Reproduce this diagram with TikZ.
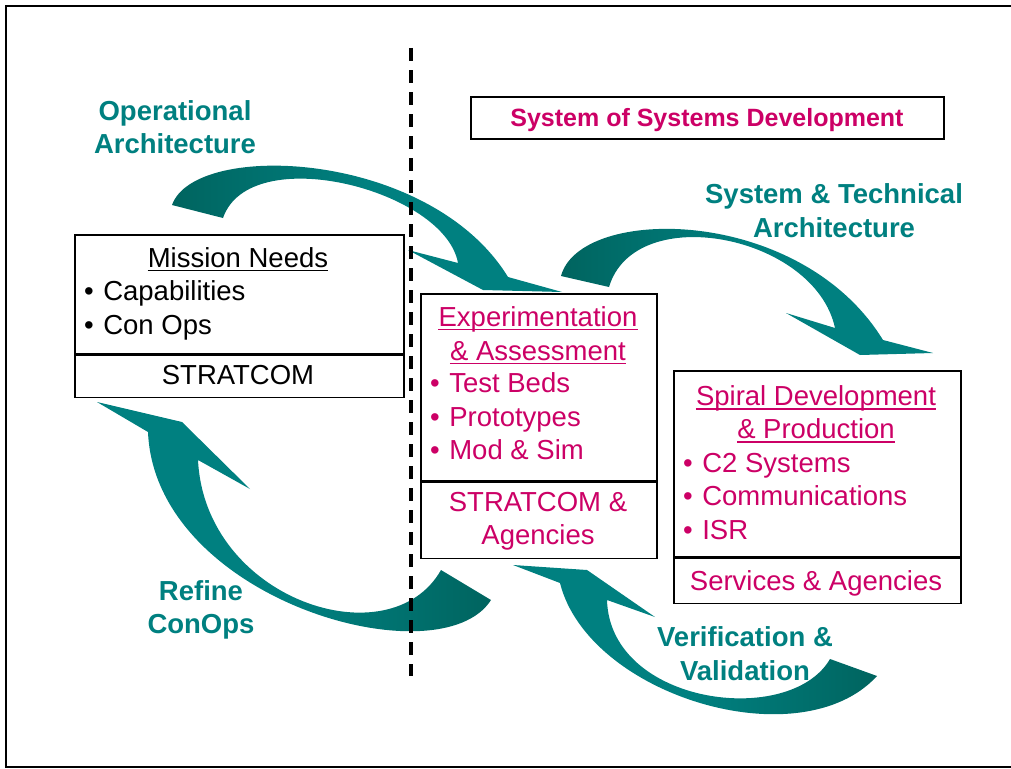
\documentclass[tikz,border=0pt]{standalone}
\usepackage{fontspec}
\setmainfont{Liberation Sans}
\usetikzlibrary{positioning}
\definecolor{ArrTeal}{HTML}{008080}
\definecolor{ArrDark}{HTML}{00645F}
\definecolor{LblTeal}{HTML}{008080}
\definecolor{TxtMag}{HTML}{CC0066}
\newcommand{\bul}{\textbullet\hspace{9.5pt}}

\begin{document}
\begin{tikzpicture}[x=1pt,y=-1pt,
  boxframe/.style={draw,line width=1.7pt,fill=white,inner sep=0pt,anchor=north west},
  body/.style={font=\fontsize{27.5}{33}\selectfont,inner sep=0pt,anchor=base},
  mag/.style={body,text=TxtMag},
  lbl/.style={body,font=\fontsize{27.5}{33}\selectfont\bfseries,text=LblTeal},
  fwdarrow/.style={left color=ArrDark,right color=ArrTeal,middle color=ArrTeal},
  backarrow/.style={left color=ArrTeal,right color=ArrDark,middle color=ArrTeal},
  underl/.style={line width=1.3pt}]
  \useasboundingbox (0,0) rectangle (1011,768);
  \draw[line width=2.4pt] (1012,6) -- (6,6) -- (6,767) -- (1012,767);

  \shade[fwdarrow] (172,205) .. controls (195,140) and (430,150) .. (508,277)
    -- (562,292) -- (483,290) -- (408,250) -- (458,263)
    .. controls (445,190) and (250,140) .. (223,218) -- cycle;
  \shade[fwdarrow] (561,276) .. controls (580,205) and (800,205) .. (883,340)
    -- (933,353) -- (860,355) -- (786,313) -- (835,328)
    .. controls (815,235) and (635,200) .. (609,287) -- cycle;
  \shade[backarrow] (491,600) .. controls (440,680) and (155,600) .. (148,432)
    -- (97,402) -- (182,422) -- (250,489) -- (198,460)
    .. controls (205,600) and (390,660) .. (441,570) -- cycle;
  \shade[backarrow] (877,676) .. controls (800,760) and (588,695) .. (560,583)
    -- (513,565) -- (587,570) -- (655,617) -- (607,600)
    .. controls (610,705) and (790,728) .. (830,659) -- cycle;

  \node[boxframe, minimum width=473, minimum height=42] (sos) at (470,96) {};
  \node[boxframe, minimum width=329, minimum height=119] (needs) at (74,234) {};
  \node[boxframe, minimum width=329, minimum height=42] (needsorg) at (needs.south west) {};
  \node[boxframe, minimum width=236, minimum height=187] (exper) at (420,293) {};
  \node[boxframe, minimum width=236, minimum height=76] (experorg) at (exper.south west) {};
  \node[boxframe, minimum width=287, minimum height=186] (spiral) at (673,370) {};
  \node[boxframe, minimum width=287, minimum height=45] (spiralorg) at (spiral.south west) {};

  \coordinate (divtop) at (411,48);
  \coordinate (divbot) at (411,676);
  \draw[line width=3.6pt, dash pattern=on 13pt off 9pt] (divtop) -- (divbot);

  \node[mag, font=\fontsize{25}{30}\selectfont\bfseries] (sostxt) at (707,126) {System of Systems Development};

  \node[body] (needsttl) at (238,267) {Mission Needs};
  \draw[underl] ([yshift=-3.5pt]needsttl.base west) -- ([yshift=-3.5pt]needsttl.base east);
  \foreach \txt [count=\k] in {Capabilities,Con Ops}
    \node[body, anchor=base west] (needs\k) at (84,266+34*\k) {\bul\txt};
  \node[body] (needsorgtxt) at (238,384) {STRATCOM};

  \node[mag] (experttl) at (538,326) {Experimentation};
  \node[mag] (experttlb) at (538,360) {\& Assessment};
  \draw[underl, TxtMag] ([yshift=-3.5pt]experttl.base west) -- ([yshift=-3.5pt]experttl.base east);
  \draw[underl, TxtMag] ([yshift=-3.5pt]experttlb.base west) -- ([yshift=-3.5pt]experttlb.base east);
  \foreach \txt [count=\k] in {Test Beds,Prototypes,Mod \& Sim}
    \node[mag, anchor=base west] (exper\k) at (430,359+33.5*\k) {\bul\txt};
  \node[mag] (experorga) at (538,511) {STRATCOM \&};
  \node[mag] (experorgb) at (538,544) {Agencies};

  \node[mag] (spiralttl) at (816,405) {Spiral Development};
  \node[mag] (spiralttlb) at (816,438) {\& Production};
  \draw[underl, TxtMag] ([yshift=-4pt]spiralttl.base west) -- ([yshift=-4pt]spiralttl.base east);
  \draw[underl, TxtMag] ([yshift=-4pt]spiralttlb.base west) -- ([yshift=-4pt]spiralttlb.base east);
  \foreach \txt [count=\k] in {C2 Systems,Communications,ISR}
    \node[mag, anchor=base west] (spiral\k) at (683,438.5+33.5*\k) {\bul\txt};
  \node[mag] (spiralorgtxt) at (816,590) {Services \& Agencies};

  \node[lbl] (oparch) at (175,120) {Operational};
  \node[lbl] (oparchb) at (175,153) {Architecture};
  \node[lbl] (sysarch) at (834,203) {System \& Technical};
  \node[lbl] (sysarchb) at (834,237) {Architecture};
  \node[lbl] (refine) at (201,600) {Refine};
  \node[lbl] (refineb) at (201,633) {ConOps};
  \node[lbl] (verif) at (745,646) {Verification \&};
  \node[lbl] (verifb) at (745,680) {Validation};
\end{tikzpicture}
\end{document}
